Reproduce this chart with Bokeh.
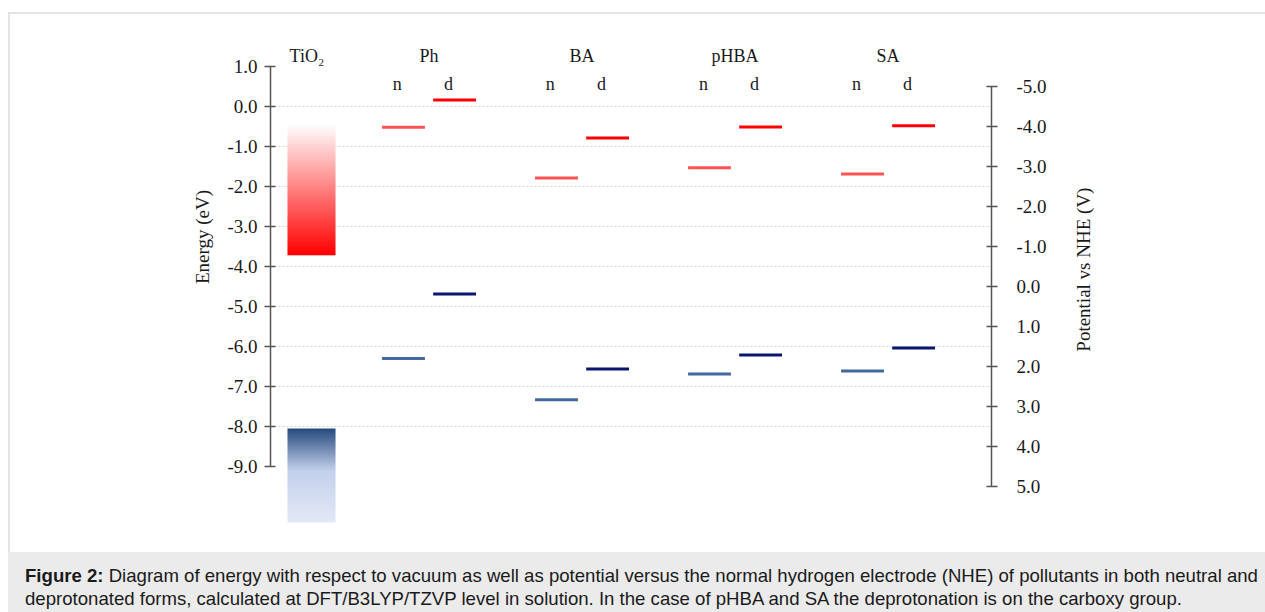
import numpy as np
from bokeh.plotting import figure
from bokeh.layouts import column, row
from bokeh.models import (Range1d, LinearAxis, FixedTicker, PrintfTickFormatter,
                          ColumnDataSource, Grid, Div)
from bokeh.core.properties import value
from bokeh.embed import file_html
from bokeh.resources import INLINE

# ---------------- data ----------------
categories = ["Ph", "BA", "pHBA", "SA"]
lumo_neutral = [-0.52, -1.79, -1.53, -1.69]
lumo_deprot = [0.16, -0.79, -0.51, -0.48]
homo_neutral = [-6.30, -7.33, -6.69, -6.61]
homo_deprot = [-4.69, -6.56, -6.21, -6.04]
tio2_cb_edge = -3.72
tio2_cb_fade = -0.45
tio2_vb_edge = -8.05
tio2_vb_fade = -10.40
energy_ticks = [1.0, 0.0, -1.0, -2.0, -3.0, -4.0, -5.0, -6.0, -7.0, -8.0, -9.0]
grid_ticks = [0.0, -1.0, -2.0, -3.0, -4.0, -5.0, -6.0, -7.0, -8.0]
nhe_ticks = [-5.0, -4.0, -3.0, -2.0, -1.0, 0.0, 1.0, 2.0, 3.0, 4.0, 5.0]
nhe_shift = -4.5  # V(NHE) = nhe_shift - E(vac)
left_title = "Energy (eV)"
right_title = "Potential vs NHE (V)"

# ---------------- layout constants ----------------
SERIF = "Liberation Serif"
H = 552
LW, RW = 215, 205                  # widths of the two title strips
FL, FR, FT, FB = 270, 991, 30, 530  # frame edges in page pixels
MW = 1265 - LW - RW                # main figure width
x_lo, x_hi = -0.036, 4.676
y_lo, y_hi = -10.6, 1.9
group_pos = [1, 2, 3, 4]
tio2_pos = 0.232
tio2_w = 0.314
off_n, off_d = -0.167, 0.167
lvl_w = 0.28
TXT = "#1a1a1a"


def px_y(py):   # pixel row -> y data units
    return y_hi - (py - FT) * (y_hi - y_lo) / (FB - FT)


p = figure(width=MW, height=H, output_backend="svg", toolbar_location=None,
           x_range=Range1d(x_lo, x_hi), y_range=Range1d(y_lo, y_hi),
           x_axis_location=None, y_axis_location=None,
           min_border_left=FL - LW, min_border_right=LW + MW - FR,
           min_border_top=FT, min_border_bottom=H - FB, outline_line_color=None,
           background_fill_color="white", border_fill_color="white")
p.xgrid.visible = False
p.ygrid.visible = False

grid = Grid(dimension=1, ticker=FixedTicker(ticks=grid_ticks),
            grid_line_color="#d4d4d4", grid_line_dash="2 2", grid_line_width=1)
p.add_layout(grid)

axis_col = "#555555"


def tick_axis(**kw):
    return LinearAxis(formatter=PrintfTickFormatter(format="%.1f"),
                      major_tick_in=5, major_tick_out=6,
                      minor_tick_line_color=None, axis_line_color=axis_col,
                      axis_line_width=1.5, major_tick_line_color=axis_col,
                      major_tick_line_width=1.5,
                      major_label_text_font=SERIF, major_label_text_font_size="19px",
                      major_label_text_color=TXT, **kw)


p.add_layout(tick_axis(ticker=FixedTicker(ticks=energy_ticks), bounds=(-9, 1),
                       major_label_standoff=7), "left")
p.extra_y_ranges = {"nhe": Range1d(nhe_shift - y_lo, nhe_shift - y_hi)}
p.add_layout(tick_axis(y_range_name="nhe", ticker=FixedTicker(ticks=nhe_ticks),
                       bounds=(-5, 5), major_label_standoff=19), "right")


# ---------------- TiO2 bands (gradient fill as an RGBA image) ----------------
def hex2rgb(h):
    h = h.lstrip("#")
    return [int(h[i:i + 2], 16) for i in (0, 2, 4)]


def gradient_img(stops, n=240):
    # row 0 = bottom of the image
    f = np.linspace(0, 1, n)
    sp = [s[0] for s in stops]
    img = np.zeros((n, 1), dtype=np.uint32)
    view = img.view(dtype=np.uint8).reshape((n, 1, 4))
    for k in range(3):
        view[:, 0, k] = np.round(np.interp(f, sp, [hex2rgb(s[1])[k] for s in stops])).astype(np.uint8)
    view[:, 0, 3] = 255
    return img


cb_img = gradient_img([(0.0, "#ff0000"), (1.0, "#ffffff")])
p.image_rgba(image=[cb_img], x=tio2_pos - tio2_w / 2, y=tio2_cb_edge,
             dw=tio2_w, dh=tio2_cb_fade - tio2_cb_edge)
vb_img = gradient_img([(0.0, "#e3e9f6"), (0.55, "#c3d0ec"), (1.0, "#274a7e")])
p.image_rgba(image=[vb_img], x=tio2_pos - tio2_w / 2, y=tio2_vb_fade,
             dw=tio2_w, dh=tio2_vb_edge - tio2_vb_fade)


# ---------------- energy levels ----------------
def levels(vals, off, color):
    xs = [g + off for g in group_pos]
    src = ColumnDataSource(dict(x0=[x - lvl_w / 2 for x in xs],
                                x1=[x + lvl_w / 2 for x in xs], y=vals))
    p.segment(x0="x0", x1="x1", y0="y", y1="y", source=src,
              line_color=color, line_width=3)


levels(lumo_neutral, off_n, "#ff5252")
levels(lumo_deprot, off_d, "#ff0000")
levels(homo_neutral, off_n, "#41699f")
levels(homo_deprot, off_d, "#0a1670")

# ---------------- header labels ----------------
group_row = px_y(55)
form_row = px_y(83)
p.text(x=[tio2_pos - 0.03] + group_pos, y=[group_row] * 5,
       text=["TiO\u2082"] + categories, text_font=value(SERIF),
       text_font_size="18px", text_align="center", text_baseline="alphabetic",
       text_color=TXT)
p.text(x=[g + off_n - 0.04 for g in group_pos] + [g + off_d - 0.04 for g in group_pos],
       y=[form_row] * 8, text=["n"] * 4 + ["d"] * 4, text_font=value(SERIF),
       text_font_size="18px", text_align="center", text_baseline="alphabetic",
       text_color=TXT)


# ---------------- axis titles in narrow side strips (pixel coordinates) ----------------
def title_strip(width, title, cx, cy):
    f = figure(width=width, height=H, output_backend="svg", toolbar_location=None,
               x_range=Range1d(0, width), y_range=Range1d(H, 0),
               x_axis_location=None, y_axis_location=None,
               min_border=0, outline_line_color=None,
               background_fill_color="white", border_fill_color="white")
    f.xgrid.visible = False
    f.ygrid.visible = False
    f.text(x=[cx], y=[cy], text=[title], angle=np.pi / 2,
           text_font=value(SERIF), text_font_size="19px", text_align="center",
           text_baseline="middle", text_color=TXT)
    return f


left_fig = title_strip(LW, left_title, 202, 228)
right_fig = title_strip(RW, right_title, 1083 - (1265 - RW), 264)

# ---------------- caption (with the light figure border drawn above it) ----------------
caption_html = (
    '<div style="position:absolute; left:0px; top:-540px; width:1300px; height:541px; '
    'border-top:2px solid #e4e4e4; border-left:2px solid #e4e4e4; '
    'box-sizing:border-box; pointer-events:none;"></div>'
    '<div style="font-family: \'Liberation Sans\', Arial, sans-serif; font-size: 18.6px; '
    'line-height: 23px; color: #1a1a1a; white-space: nowrap; padding: 12px 0 0 17px;">'
    '<b>Figure 2:</b> Diagram of energy with respect to vacuum as well as potential '
    'versus the normal hydrogen electrode (NHE) of pollutants in both neutral and<br>'
    'deprotonated forms, calculated at DFT/B3LYP/TZVP level in solution. In the case '
    'of pHBA and SA the deprotonation is on the carboxy group.</div>'
)
caption = Div(text=caption_html, width=1257, height=60, margin=(0, 0, 0, 8),
              styles={"background-color": "#ebebeb", "overflow": "visible",
                      "position": "relative"})

layout = column(row(left_fig, p, right_fig, spacing=0), caption, spacing=0)
open("out.html", "w").write(file_html(layout, INLINE))
